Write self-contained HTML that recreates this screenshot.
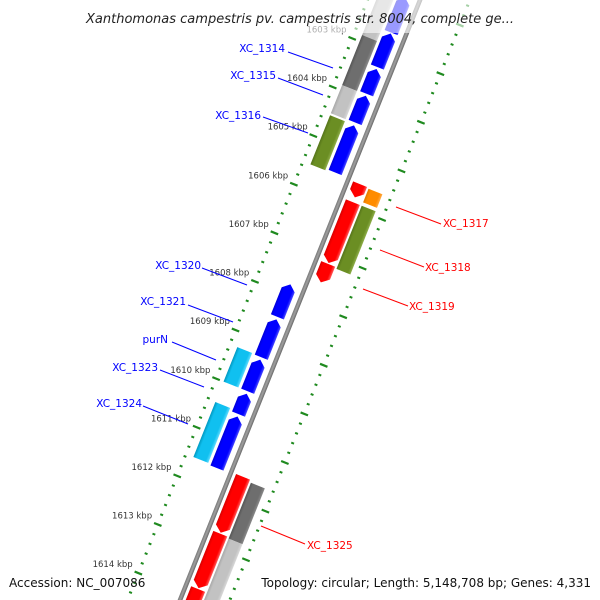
<!DOCTYPE html>
<html><head><meta charset="utf-8">
<style>
html,body{margin:0;padding:0;background:#fff;overflow:hidden;}
svg{display:block;font-family:"DejaVu Sans","Liberation Sans",sans-serif;}
</style></head>
<body>
<svg id="map" width="600" height="600" viewBox="0 0 600 600" xmlns="http://www.w3.org/2000/svg">
<defs>
<linearGradient id="gblue" x1="0" x2="1" y1="0" y2="0"><stop offset="0" stop-color="#0000d8"/><stop offset="0.2" stop-color="#0000ff"/><stop offset="0.8" stop-color="#0000ff"/><stop offset="1" stop-color="#4a4aff"/></linearGradient>
<linearGradient id="gred" x1="0" x2="1" y1="0" y2="0"><stop offset="0" stop-color="#d80000"/><stop offset="0.2" stop-color="#ff0000"/><stop offset="0.8" stop-color="#ff0000"/><stop offset="1" stop-color="#ff5a5a"/></linearGradient>
<linearGradient id="golive" x1="0" x2="1" y1="0" y2="0"><stop offset="0" stop-color="#55741a"/><stop offset="0.2" stop-color="#6b8e23"/><stop offset="0.8" stop-color="#6b8e23"/><stop offset="1" stop-color="#8fae4a"/></linearGradient>
<linearGradient id="gcyan" x1="0" x2="1" y1="0" y2="0"><stop offset="0" stop-color="#0098c0"/><stop offset="0.2" stop-color="#10c0f0"/><stop offset="0.8" stop-color="#10c0f0"/><stop offset="1" stop-color="#60dcff"/></linearGradient>
<linearGradient id="gdgrey" x1="0" x2="1" y1="0" y2="0"><stop offset="0" stop-color="#555"/><stop offset="0.2" stop-color="#6e6e6e"/><stop offset="0.8" stop-color="#6e6e6e"/><stop offset="1" stop-color="#8a8a8a"/></linearGradient>
<linearGradient id="glgrey" x1="0" x2="1" y1="0" y2="0"><stop offset="0" stop-color="#a8a8a8"/><stop offset="0.2" stop-color="#c2c2c2"/><stop offset="0.8" stop-color="#c2c2c2"/><stop offset="1" stop-color="#d8d8d8"/></linearGradient>
<linearGradient id="gorange" x1="0" x2="1" y1="0" y2="0"><stop offset="0" stop-color="#e07800"/><stop offset="0.2" stop-color="#ff8c00"/><stop offset="0.8" stop-color="#ff8c00"/><stop offset="1" stop-color="#ffaa44"/></linearGradient>
<linearGradient id="gback" x1="0" x2="1" y1="0" y2="0"><stop offset="0" stop-color="#777"/><stop offset="0.5" stop-color="#a0a0a0"/><stop offset="1" stop-color="#666"/></linearGradient>
</defs>
<g id="track" transform="translate(416,0) rotate(21.8)"></g>
<g id="labels"></g>
<g id="annot" font-size="10.5">
<g><line x1="288" y1="52" x2="333" y2="68" stroke="#0000ff" stroke-width="1"/><text x="285" y="52" text-anchor="end" fill="#0000ff">XC_1314</text></g>
<g><line x1="278" y1="78" x2="323" y2="95" stroke="#0000ff" stroke-width="1"/><text x="276" y="79" text-anchor="end" fill="#0000ff">XC_1315</text></g>
<g><line x1="263" y1="117" x2="308" y2="133" stroke="#0000ff" stroke-width="1"/><text x="261" y="119" text-anchor="end" fill="#0000ff">XC_1316</text></g>
<g><line x1="202" y1="268" x2="247" y2="285" stroke="#0000ff" stroke-width="1"/><text x="201" y="269" text-anchor="end" fill="#0000ff">XC_1320</text></g>
<g><line x1="188" y1="305" x2="233" y2="322" stroke="#0000ff" stroke-width="1"/><text x="186" y="305" text-anchor="end" fill="#0000ff">XC_1321</text></g>
<g><line x1="172" y1="342" x2="216" y2="360" stroke="#0000ff" stroke-width="1"/><text x="168" y="343" text-anchor="end" fill="#0000ff">purN</text></g>
<g><line x1="160" y1="370" x2="204" y2="387" stroke="#0000ff" stroke-width="1"/><text x="158" y="371" text-anchor="end" fill="#0000ff">XC_1323</text></g>
<g><line x1="143" y1="406" x2="188" y2="424" stroke="#0000ff" stroke-width="1"/><text x="142" y="407" text-anchor="end" fill="#0000ff">XC_1324</text></g>
<g><line x1="396" y1="207" x2="441" y2="224" stroke="#ff0000" stroke-width="1"/><text x="443" y="227" fill="#ff0000">XC_1317</text></g>
<g><line x1="380" y1="250" x2="424" y2="267" stroke="#ff0000" stroke-width="1"/><text x="425" y="271" fill="#ff0000">XC_1318</text></g>
<g><line x1="363" y1="289" x2="408" y2="306" stroke="#ff0000" stroke-width="1"/><text x="409" y="310" fill="#ff0000">XC_1319</text></g>
<g><line x1="261" y1="526" x2="305" y2="544" stroke="#ff0000" stroke-width="1"/><text x="307" y="549" fill="#ff0000">XC_1325</text></g>
</g>
<rect x="60" y="0" width="480" height="33" fill="#fff" fill-opacity="0.6"/>
<text x="300" y="23" text-anchor="middle" font-size="13" font-style="italic" fill="#222">Xanthomonas campestris pv. campestris str. 8004, complete ge...</text>
<text x="9" y="587" font-size="12" fill="#111">Accession: NC_007086</text>
<text x="591" y="587" text-anchor="end" font-size="12" fill="#111">Topology: circular; Length: 5,148,708 bp; Genes: 4,331</text>
</svg>
<script>
// data arrays (kbp)
const geneStart = [1601.9,1602.64,1603.37,1603.92,1604.53,1607.8,1608.52,1609.35,1610.05,1610.52,
  1601.5,1602.87,1603.9,1604.52,1609.29,1610.42,
  1605.53,1605.9,1607.17,1611.55,1612.72,1613.86,
  1605.55,1605.9,1611.6,1612.75];
const geneEnd = [1602.62,1603.33,1603.88,1604.47,1605.5,1608.47,1609.3,1610.0,1610.47,1611.58,
  1602.87,1603.9,1604.48,1605.53,1610.0,1611.55,
  1605.8,1607.15,1607.55,1612.7,1613.84,1615.2,
  1605.83,1607.2,1612.75,1615.2];
const geneLane = [0,0,0,0,0,0,0,0,0,0, 1,1,1,1,1,1, 2,2,2,2,2,2, 3,3,3,3];
const geneColor = ['blue','blue','blue','blue','blue','blue','blue','blue','blue','blue',
  'lgrey','dgrey','lgrey','olive','cyan','cyan',
  'red','red','red','red','red','red',
  'orange','olive','dgrey','lgrey'];
const geneArrow = [1,1,1,1,1,1,1,1,1,1, 0,0,0,0,0,0, 1,1,1,1,1,1, 0,0,0,0];
const tickKbp = [1603,1604,1605,1606,1607,1608,1609,1610,1611,1612,1613,1614];
const tickLabels = ['1603 kbp','1604 kbp','1605 kbp','1606 kbp','1607 kbp','1608 kbp','1609 kbp','1610 kbp','1611 kbp','1612 kbp','1613 kbp','1614 kbp'];

const NS='http://www.w3.org/2000/svg';
const ANG=21.8*Math.PI/180;
const PXK=52.35, K0=1606, S0=216.4, COS=Math.cos(ANG), SIN=Math.sin(ANG);
function sOf(k){return S0+(k-K0)*PXK;}
function toXY(u,s){return [416+u*COS-s*SIN, u*SIN+s*COS];}
const laneU=[[-18,-4],[-37,-21],[9,24],[26,41]];
const track=document.getElementById('track');
const labels=document.getElementById('labels');

const bb=document.createElementNS(NS,'rect');


bb.setAttribute('x',1.5);bb.setAttribute('y',-100);bb.setAttribute('width',4.5);bb.setAttribute('height',900);
bb.setAttribute('fill','url(#gback)');
track.appendChild(bb);

function tickLine(u1,u2,s,w,name){
  const l=document.createElementNS(NS,'line');
  
  
  l.setAttribute('x1',u1);l.setAttribute('x2',u2);l.setAttribute('y1',s);l.setAttribute('y2',s);
  l.setAttribute('stroke','#1f8a1f');l.setAttribute('stroke-width',w);
  track.appendChild(l);
}
for(let i=0;i<=75;i++){
  const k=1600+i*0.2;
  const major=Math.abs(k-Math.round(k))<1e-6;
  const s=sOf(k);
  if(major){tickLine(-49,-41,s,2.2,'ruler-major-tick');tickLine(46,54,s,2.2,'ruler-major-tick');}
  else{tickLine(-46.5,-43.5,s,2,'ruler-minor-tick');tickLine(48.5,51.5,s,2,'ruler-minor-tick');}
}
tickKbp.forEach((k,i)=>{
  const p=toXY(-50,sOf(k));
  const t=document.createElementNS(NS,'text');
  
  
  t.setAttribute('x',p[0]-1);t.setAttribute('y',p[1]-4);
  t.setAttribute('text-anchor','end');t.setAttribute('font-size','8.5');t.setAttribute('fill','#333');
  t.textContent=tickLabels[i];
  labels.appendChild(t);
});

geneStart.forEach((st,i)=>{
  const [u1,u2]=laneU[geneLane[i]];
  const s0=sOf(st), s1=sOf(geneEnd[i]);
  const um=(u1+u2)/2, h=Math.min(6,(s1-s0)/2);
  let pts;
  if(geneArrow[i]&&geneLane[i]===0){
    pts=[[u1,s0+h],[um,s0],[u2,s0+h],[u2,s1],[u1,s1]];
  } else if(geneArrow[i]){
    pts=[[u1,s0],[u2,s0],[u2,s1-h],[um,s1],[u1,s1-h]];
  } else pts=[[u1,s0],[u2,s0],[u2,s1],[u1,s1]];
  const p=document.createElementNS(NS,'polygon');
  
  
  p.setAttribute('points',pts.map(q=>q.join(',')).join(' '));
  p.setAttribute('fill','url(#g'+geneColor[i]+')');
  track.appendChild(p);
});
</script>
</body></html>
